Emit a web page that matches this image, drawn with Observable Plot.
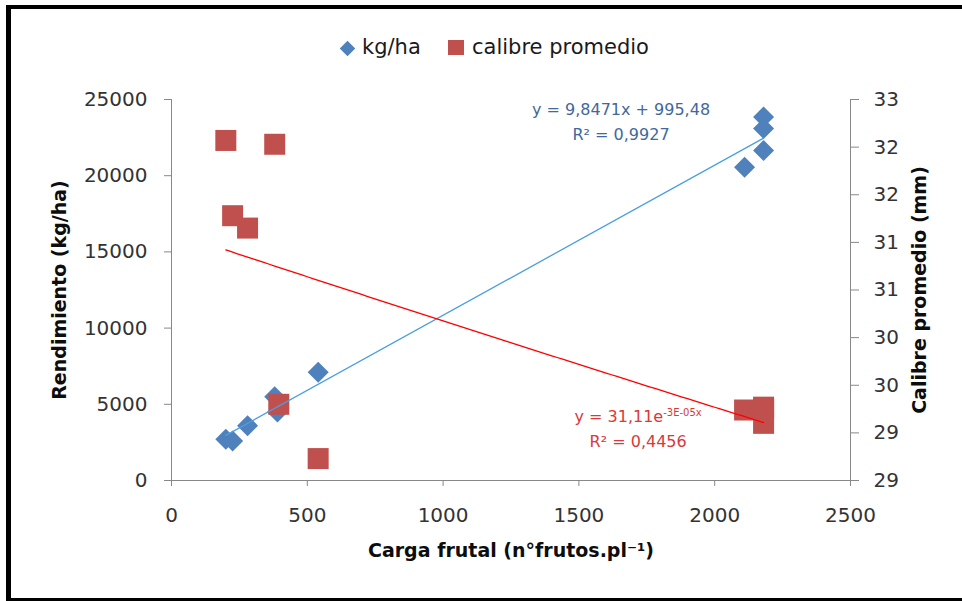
<!DOCTYPE html>
<html>
<head>
<meta charset="utf-8">
<script src="https://cdn.jsdelivr.net/npm/d3@7"></script>
<script src="https://cdn.jsdelivr.net/npm/@observablehq/plot@0.6"></script>
<style>
html, body { margin: 0; padding: 0; background: #fff; }
#wrap { position: relative; width: 962px; height: 601px; overflow: hidden; font-family: "DejaVu Sans", sans-serif; }
#chart { position: absolute; left: 0; top: 0; }
#frame { position: absolute; left: 6px; top: 5px; right: 0; bottom: 0; border-left: 5px solid #000; border-top: 4px solid #000; border-bottom: 3px solid #000; pointer-events: none; }
.lg { position: absolute; }
.lgtext { position: absolute; top: 35px; font-size: 21px; line-height: 24px; color: #1a1a1a; white-space: nowrap; }
.eq { position: absolute; transform: translate(-50%, -50%); font-size: 16px; line-height: 25px; text-align: center; white-space: nowrap; }
.eq sup { font-size: 10px; vertical-align: 6px; line-height: 0; }
svg g[aria-label="y-axis label"] text, svg g[aria-label="x-axis label"] text { font-weight: bold; font-size: 19px; fill: #0d0d0d; }
</style>
</head>
<body>
<div id="wrap">
  <div id="chart"></div>
  <div id="legend"></div>
  <div id="frame"></div>
</div>
<script>
// ---- data ----
const cargaKg  = [200, 225, 280, 380, 390, 540, 2110, 2180, 2180, 2180];
const kgHa     = [2700, 2600, 3600, 5500, 4500, 7100, 20550, 21650, 23100, 23850];
const cargaCal = [200, 225, 280, 380, 395, 540, 2110, 2180, 2180, 2180];
const calibre  = [32.07, 31.28, 31.15, 32.03, 29.30, 28.73, 29.24, 29.27, 29.10, 29.25];

const xTicks      = [0, 500, 1000, 1500, 2000, 2500];
const yLeftTicks  = [0, 5000, 10000, 15000, 20000, 25000];
const yRightTicks = [28.5, 29, 29.5, 30, 30.5, 31, 31.5, 32, 32.5];
const leftDomain  = [0, 25000];
const rightDomain = [28.5, 32.5];

// trendline equations as shown on the chart
const linTrend   = [9.8471, 995.48];   // y = a x + b
const expTrend   = [31.11, -3.05e-5];  // y = a e^(b x)
const trendRange = [200, 2180];

const seriesNames = ["kg/ha", "calibre promedio"];
const eqLinText = ["y = 9,8471x + 995,48", "R² = 0,9927"];
const eqExpText = ["y = 31,11e", "-3E-05x", "R² = 0,4456"];

// ---- helpers ----
const toLeft = v => leftDomain[0] + (v - rightDomain[0]) / (rightDomain[1] - rightDomain[0]) * (leftDomain[1] - leftDomain[0]);
const toRight = v => rightDomain[0] + (v - leftDomain[0]) / (leftDomain[1] - leftDomain[0]) * (rightDomain[1] - rightDomain[0]);

const kgData  = cargaKg.map((x, i) => ({x, y: kgHa[i]}));
const calData = cargaCal.map((x, i) => ({x, y: toLeft(calibre[i])}));
const linLine = trendRange.map(x => ({x, y: linTrend[0] * x + linTrend[1]}));
const expLine = d3.range(trendRange[0], trendRange[1] + 1, 20).map(x => ({x, y: toLeft(expTrend[0] * Math.exp(expTrend[1] * x))}));

const diamond = {draw(ctx, size) { const r = Math.sqrt(size / Math.PI); ctx.moveTo(0, -r); ctx.lineTo(r, 0); ctx.lineTo(0, r); ctx.lineTo(-r, 0); ctx.closePath(); }};
const square  = {draw(ctx, size) { const r = Math.sqrt(size / Math.PI); ctx.rect(-r, -r, 2 * r, 2 * r); }};

const blue = "#4F81BD", red = "#C0504D";

const plot = Plot.plot({
  width: 962, height: 601,
  marginLeft: 171, marginRight: 112, marginTop: 99, marginBottom: 121,
  style: {fontFamily: "DejaVu Sans, sans-serif", fontSize: "20px", color: "#333", background: "transparent"},
  x: {domain: [0, 2500]},
  y: {domain: leftDomain},
  marks: [
    Plot.ruleY([0], {stroke: "#888"}),
    Plot.ruleX([0], {stroke: "#888"}),
    Plot.ruleX([2500], {stroke: "#888"}),
    Plot.axisX(xTicks, {anchor: "bottom", tickSize: 6, tickPadding: 21, stroke: "#888", fill: "#333", tickFormat: d => String(d),
      label: "Carga frutal (n°frutos.pl⁻¹)", labelAnchor: "center", labelArrow: "none", labelOffset: 76}),
    Plot.axisY(yLeftTicks, {anchor: "left", tickSize: 7, tickPadding: 17, stroke: "#888", fill: "#333", tickFormat: d => String(d),
      label: "Rendimiento (kg/ha)", labelAnchor: "center", labelArrow: "none", labelOffset: 119}),
    Plot.axisY(yRightTicks.map(toLeft), {anchor: "right", tickSize: 8, tickPadding: 15, stroke: "#888", fill: "#333",
      tickFormat: d => String(Math.round(toRight(d))),
      label: "Calibre promedio (mm)", labelAnchor: "center", labelArrow: "none", labelOffset: 75}),
    Plot.dot(kgData, {x: "x", y: "y", symbol: diamond, r: 10.5, fill: blue, stroke: "none"}),
    Plot.dot(calData, {x: "x", y: "y", symbol: square, r: 10.5, fill: red, stroke: "none"}),
    Plot.line(linLine, {x: "x", y: "y", stroke: "#4A9FDF", strokeWidth: 1.3}),
    Plot.line(expLine, {x: "x", y: "y", stroke: "#FF0000", strokeWidth: 1.3})
  ]
});
document.getElementById("chart").appendChild(plot);

// ---- equation labels, placed through the plot's scales ----
const sx = plot.scale("x"), sy = plot.scale("y");
const eqLinPos = {x: 1657, y: 23520};
const eqExpPos = {x: 1720, y: 3350};
const wrap = document.getElementById("wrap");
function addEq(pos, html, color) {
  const d = document.createElement("div");
  d.className = "eq";
  d.style.left = sx.apply(pos.x) + "px";
  d.style.top = sy.apply(pos.y) + "px";
  d.style.color = color;
  d.innerHTML = html;
  wrap.appendChild(d);
}
addEq(eqLinPos, eqLinText[0] + "<br>" + eqLinText[1], "#41689C");
addEq(eqExpPos, eqExpText[0] + "<sup>" + eqExpText[1] + "</sup><br>" + eqExpText[2], "#D9393A");

// ---- legend ----
const lg = document.getElementById("legend");
lg.innerHTML =
  '<div class="lg" style="left:341.5px;top:42.5px;width:11px;height:11px;background:' + blue + ';transform:rotate(45deg);"></div>' +
  '<div class="lgtext" style="left:362px;">' + seriesNames[0] + '</div>' +
  '<div class="lg" style="left:448px;top:40px;width:16px;height:15px;background:' + red + ';"></div>' +
  '<div class="lgtext" style="left:472px;">' + seriesNames[1] + '</div>';
</script>
</body>
</html>
